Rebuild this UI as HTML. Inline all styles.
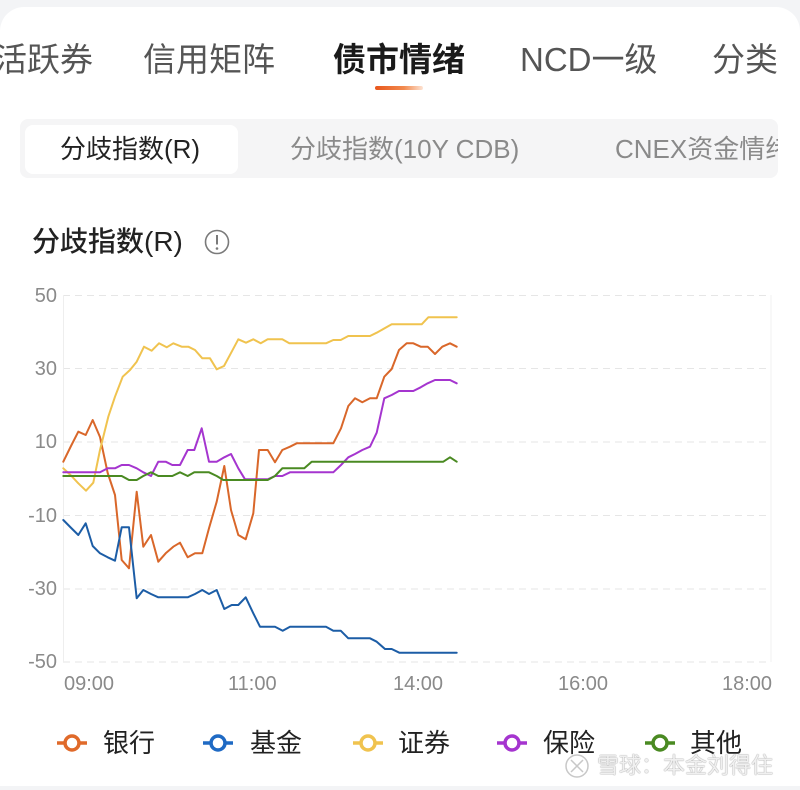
<!DOCTYPE html>
<html><head><meta charset="utf-8">
<style>
html,body{margin:0;padding:0;}
body{width:800px;height:790px;position:relative;overflow:hidden;background:#f3f4f6;font-family:"Liberation Sans","Noto Sans CJK SC",sans-serif;}
.card{position:absolute;left:0;top:7px;width:800px;height:779px;background:#fff;border-radius:24px 24px 0 0;}
.t{position:absolute;white-space:nowrap;line-height:1;}
.tab{font-size:33px;color:#555;top:43px;}
.seg{position:absolute;left:20px;top:119px;width:758px;height:59px;background:#f5f5f6;border-radius:8px;overflow:hidden;}
.pill{position:absolute;left:5px;top:6px;width:213px;height:49px;background:#fff;border-radius:8px;}
.st{position:absolute;font-size:26px;line-height:1;white-space:nowrap;top:17px;color:#8a8a8a;}
.yl{position:absolute;font-size:20px;color:#8a8a8a;line-height:1;width:40px;text-align:right;left:17px;}
.xl{position:absolute;font-size:20px;color:#8a8a8a;line-height:1;top:674px;}
.lg{position:absolute;font-size:26px;color:#222;line-height:1;top:730px;}
</style></head><body>
<div class="card"></div>
<div class="t tab" style="left:-6px;">活跃券</div>
<div class="t tab" style="left:143px;">信用矩阵</div>
<div class="t tab" style="left:333px;color:#1a1a1a;font-weight:bold;">债市情绪</div>
<div class="t tab" style="left:520px;">NCD一级</div>
<div class="t tab" style="left:712px;">分类</div>
<div style="position:absolute;left:375px;top:86px;width:48px;height:4px;border-radius:2px;background:linear-gradient(90deg,#e8561c,#f28a4e 60%,#fde3d3);"></div>

<div class="seg">
  <div class="pill"></div>
  <div class="st" style="left:40px;color:#222;">分歧指数(R)</div>
  <div class="st" style="left:270px;">分歧指数(10Y CDB)</div>
  <div class="st" style="left:595px;">CNEX资金情绪</div>
</div>

<div class="t" style="left:32px;top:228px;font-size:28px;color:#222;font-weight:500;">分歧指数(R)</div>
<svg style="position:absolute;left:0;top:0" width="800" height="790">
  <circle cx="217" cy="242" r="11.5" fill="none" stroke="#7a7a7a" stroke-width="1.6"/>
  <line x1="217" y1="235" x2="217" y2="244.5" stroke="#7a7a7a" stroke-width="2"/>
  <circle cx="217" cy="248.5" r="1.3" fill="#7a7a7a"/>
</svg>

<div class="yl" style="top:286px;">50</div>
<div class="yl" style="top:359px;">30</div>
<div class="yl" style="top:432px;">10</div>
<div class="yl" style="top:506px;">-10</div>
<div class="yl" style="top:579px;">-30</div>
<div class="yl" style="top:652px;">-50</div>

<div class="xl" style="left:64px;">09:00</div>
<div class="xl" style="left:228px;">11:00</div>
<div class="xl" style="left:393px;">14:00</div>
<div class="xl" style="left:558px;">16:00</div>
<div class="xl" style="left:722px;">18:00</div>

<svg style="position:absolute;left:0;top:0" width="800" height="790">
  <g stroke="#e6e6e6" stroke-width="1" stroke-dasharray="7 5">
    <line x1="63" y1="295.5" x2="771" y2="295.5"/>
    <line x1="63" y1="368.5" x2="771" y2="368.5"/>
    <line x1="63" y1="442" x2="771" y2="442"/>
    <line x1="63" y1="515.5" x2="771" y2="515.5"/>
    <line x1="63" y1="589" x2="771" y2="589"/>
    <line x1="63" y1="662" x2="771" y2="662"/>
  </g>
  <line x1="63.5" y1="295" x2="63.5" y2="662" stroke="#eeeeee" stroke-width="1"/>
  <line x1="771" y1="295" x2="771" y2="662" stroke="#f0f0f0" stroke-width="1"/>
  <g fill="none" stroke-width="2" stroke-linejoin="round" stroke-linecap="round">
    <polyline stroke="#d9672a" points="63.3,461.7 71,446 78.3,431.7 85.7,435 92.7,420 100,437 107.7,473 115,495 121.7,560 129,568.3 136.7,491.7 143.3,546.7 151,535 158.3,561.7 165.7,553.3 173.3,546.7 180,542.7 187.7,557.3 195,553.3 202.3,553.3 209,528.3 216.7,501.7 224.3,466 231,510 238.3,535 245.7,539.3 253.3,513.3 259,450 267.7,450 275,462.3 282.3,450 290,446.7 296.7,443.3 333.3,443.3 341,428.3 348.3,406 355,398.3 362.3,402.3 370,398.3 376.7,398.3 384.3,376.7 391.7,369 399,350 406.7,343.3 413.3,343.3 420.7,346.7 427.7,346.7 435,354 442.3,346.7 450,343.3 456.7,346.7"/>
    <polyline stroke="#1c5da6" points="63.3,520 70.7,527.5 78.3,535 85.7,523.3 92.7,546 100,553.3 107.7,557.3 115,560.7 121.7,527.3 129,527.3 136.7,598.3 143.3,590 151,594 158.3,597.3 187.7,597.3 195,594 202.3,590 209,594 216.7,590 224.3,609 231.7,605 238.3,605 245.7,597.3 253.3,613.3 260,626.7 275,626.7 282.7,630.7 290,626.7 326,626.7 333.3,630.7 340.7,630.7 348.3,638.3 370,638.3 376.7,641.7 385,649 391.7,649 399.3,652.7 456.7,652.7"/>
    <polyline stroke="#f0c34f" points="63.3,468.3 71,475.5 78.3,483.3 86,490.7 93.3,482.7 100,450 108.3,416.7 115,396.7 122.7,376.7 130,370 136.7,361.7 144,346.7 151.7,350.7 159,343.3 166.7,347.3 173.3,343.3 181.7,346.7 188.3,346.7 195,350 202.3,358.3 210,358.3 216.7,369.3 224,366 231.7,351.7 238.3,339.3 246,342.7 253.3,339.3 260.7,343.3 267.7,339.3 282.3,339.3 289.3,343.3 326,343.3 333.3,340 340.7,340 348.3,336 370,336 376.7,332.7 391.7,324.3 421.7,324.3 428.3,317.3 456.7,317.3"/>
    <polyline stroke="#a535cf" points="63.3,472.3 100,472.3 107.7,468.3 115,468.3 121.7,465 129,465 136.7,468.3 143.3,472.3 151,476 158.3,461.7 165.7,461.7 172.3,465 180,465 187.7,450 194.3,450 201.7,428.3 209,461.7 216.7,461.7 224.3,457.3 231,454 238.3,468.3 245,479.3 267.7,479.3 275,476 282.3,476 290,472.3 333.3,472.3 341,465 348.3,457.3 355,454 362.3,450 370,446.7 376.7,432.7 384.3,398.3 391.7,395 399,391 413.3,391 420.7,387.3 427.7,383.3 435,380 450,380 456.7,383.3"/>
    <polyline stroke="#4a8a22" points="63.3,476 121.7,476 129,480 136.7,480 143.3,476 151,472.3 158.3,476 172.3,476 180,472.3 187.7,476 194.3,472.3 209,472.3 216.7,476 223.3,480 267.7,480 275,476 282.3,468.3 304.3,468.3 311.7,461.7 443.3,461.7 450,457.3 456.7,461.7"/>
  </g>
  <g stroke-width="3.5" fill="#fff">
    <line x1="57" y1="743" x2="87" y2="743" stroke="#e06a2a"/><circle cx="72" cy="743" r="7" stroke="#e06a2a"/>
    <line x1="203" y1="743" x2="233" y2="743" stroke="#1f6ac4"/><circle cx="218" cy="743" r="7" stroke="#1f6ac4"/>
    <line x1="353" y1="743" x2="383" y2="743" stroke="#f0c34f"/><circle cx="368" cy="743" r="7" stroke="#f0c34f"/>
    <line x1="497" y1="743" x2="527" y2="743" stroke="#a535cf"/><circle cx="512" cy="743" r="7" stroke="#a535cf"/>
    <line x1="645" y1="743" x2="675" y2="743" stroke="#4a8a22"/><circle cx="660" cy="743" r="7" stroke="#4a8a22"/>
  </g>
  <g fill="none" stroke="#c8c8c8" stroke-width="1.5">
    <circle cx="577" cy="766" r="11"/>
    <path d="M571 760 L583 772 M583 760 L571 772"/>
  </g>
</svg>

<div class="lg" style="left:103px;">银行</div>
<div class="lg" style="left:250px;">基金</div>
<div class="lg" style="left:398px;">证券</div>
<div class="lg" style="left:543px;">保险</div>
<div class="lg" style="left:690px;">其他</div>

<div class="t" style="left:597px;top:755px;font-size:22px;color:rgba(255,255,255,0.85);text-shadow:0 0 1px #999,0 0 1px #999;">雪球：本金刘得住</div>

<div style="position:absolute;left:0;top:786px;width:800px;height:4px;background:#f3f4f6;"></div>
</body></html>
